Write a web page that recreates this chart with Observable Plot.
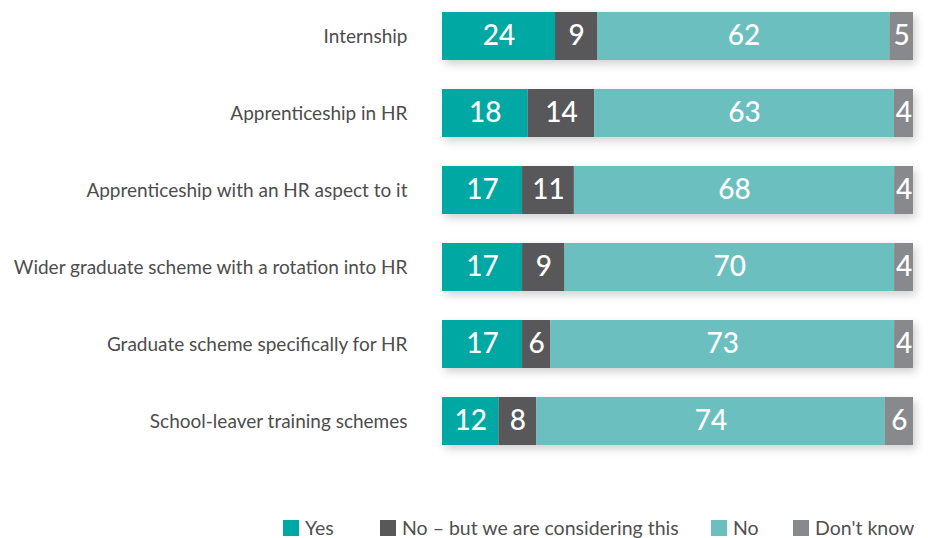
<!DOCTYPE html>
<html>
<head>
<meta charset="utf-8">
<script src="https://cdn.jsdelivr.net/npm/d3@7"></script>
<script src="https://cdn.jsdelivr.net/npm/@observablehq/plot@0.6"></script>
<style>
  html, body { margin: 0; padding: 0; background: #fff; }
  body { width: 928px; height: 538px; overflow: hidden; font-family: Lato, "Open Sans", sans-serif; }
  #legend { position: relative; height: 78px; }
  .item { position: absolute; top: 59px; display: flex; align-items: center; font-size: 19.5px; color: #505050; line-height: 18px; white-space: nowrap; }
  .sw { width: 16px; height: 16px; margin-right: 6px; }
</style>
</head>
<body>
<div id="chart"></div>
<div id="legend"></div>
<script>
const categories = [
  "Internship",
  "Apprenticeship in HR",
  "Apprenticeship with an HR aspect to it",
  "Wider graduate scheme with a rotation into HR",
  "Graduate scheme specifically for HR",
  "School-leaver training schemes"
];
const series = ["Yes", "No \u2013 but we are considering this", "No", "Don't know"];
const colors = ["#00a8a4", "#58585a", "#6bbfbf", "#88898c"];
const yes        = [24, 18, 17, 17, 17, 12];
const noConsider = [9, 14, 11, 9, 6, 8];
const no         = [62, 63, 68, 70, 73, 74];
const dontKnow   = [5, 4, 4, 4, 4, 6];

const columns = [yes, noConsider, no, dontKnow];
const data = [];
categories.forEach((c, i) => {
  series.forEach((s, j) => data.push({category: c, series: s, value: columns[j][i]}));
});

const chart = Plot.plot({
  width: 928,
  height: 460,
  marginTop: 12,
  marginBottom: 15,
  marginLeft: 442,
  marginRight: 15,
  style: {fontFamily: "Lato, 'Open Sans', sans-serif", background: "#fff"},
  x: {domain: [0, 1], axis: null},
  y: {domain: categories, paddingInner: 0.377, paddingOuter: 0, label: null, tickSize: 0, tickPadding: 35},
  color: {domain: series, range: colors},
  marks: [
    Plot.barX(data, Plot.stackX({x: "value", y: "category", z: "series", fill: "series", offset: "normalize"})),
    Plot.text(data, Plot.stackX({x: "value", y: "category", z: "series", offset: "normalize", text: d => String(d.value), fill: "white", fontSize: 28, fontWeight: 500})),
    Plot.axisY({tickSize: 0, tickPadding: 35, fontSize: 19, label: null})
  ]
});
chart.querySelectorAll("g[aria-label='y-axis tick label']").forEach(e => e.setAttribute("fill", "#4d4d4d"));
const barG = chart.querySelector("g[aria-label='bar']");
if (barG) barG.style.filter = "drop-shadow(3px 4px 4px rgba(0,0,0,0.18))";
document.getElementById("chart").appendChild(chart);

const legend = document.getElementById("legend");
const lx = [283, 380, 711, 793];
series.forEach((s, i) => {
  const it = document.createElement("div");
  it.className = "item";
  it.style.left = lx[i] + "px";
  it.innerHTML = `<span class="sw" style="background:${colors[i]}"></span><span>${s}</span>`;
  legend.appendChild(it);
});
</script>
</body>
</html>
